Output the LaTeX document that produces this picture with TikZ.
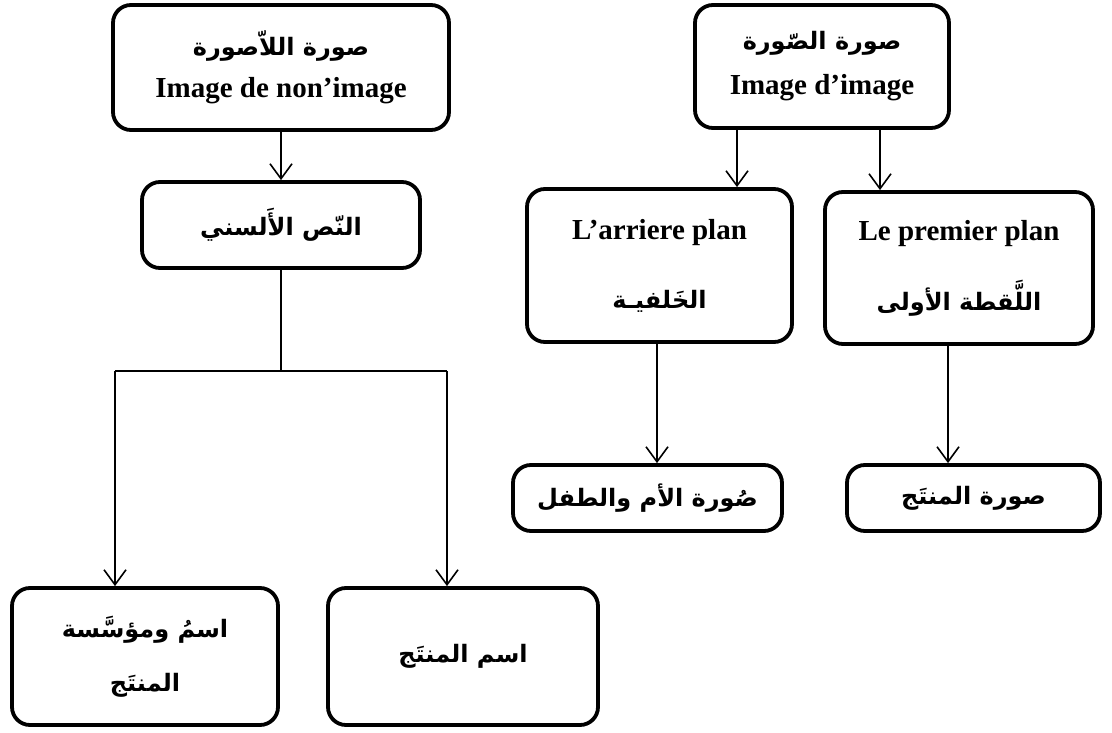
\documentclass[tikz,border=0pt]{standalone}
\usepackage{fontspec}
\setmainfont{Liberation Serif}
\newfontfamily\arfont[Script=Arabic]{DejaVu Sans}
\TeXXeTstate=1
\usetikzlibrary{arrows.meta}
\newcommand\AR[1]{{\arfont\bfseries\fontsize{24}{29}\selectfont\beginR #1\endR}}
\begin{document}
\begin{tikzpicture}[x=1pt,y=-1pt,
  box/.style={draw, line width=3.8pt, rounded corners=18pt, align=center, inner sep=0pt,
    font=\bfseries\fontsize{29}{34}\selectfont},
  conn/.style={line width=1.6pt},
  arr/.style={conn, -{Straight Barb[length=15pt,width=22pt]}}]
\useasboundingbox (0,0) rectangle (1112,733);
% left tree
\node[box, minimum width=336pt, minimum height=125pt] (A) at (281,67.5)
  {\AR{صورة اللاّصورة}\\[8pt] Image de non’image};
\node[box, minimum width=278pt, minimum height=86pt] (B) at (281,225)
  {\AR{النّص الأَلسني}};
\node[box, minimum width=266pt, minimum height=137pt] (C) at (145,656.5)
  {\AR{اسمُ ومؤسَّسة}\\[20pt]\AR{المنتَج}};
\node[box, minimum width=270pt, minimum height=137pt] (D) at (463,656.5)
  {\AR{اسم المنتَج}};
% right tree
\node[box, minimum width=254pt, minimum height=123pt] (E) at (822,66.5)
  {\AR{صورة الصّورة}\\[11pt] Image d’image};
\node[box, minimum width=265pt, minimum height=153pt] (F) at (659.5,265.5)
  {L’arriere plan\\[35pt]\AR{الخَلفيـة}};
\node[box, minimum width=268pt, minimum height=152pt] (G) at (959,268)
  {Le premier plan\\[33pt]\AR{اللَّقطة الأولى}};
\node[box, minimum width=269pt, minimum height=66pt] (H) at (647.5,498)
  {\AR{صُورة الأم والطفل}};
\node[box, minimum width=253pt, minimum height=66pt] (I) at (973.5,498)
  {\AR{صورة المنتَج}};
% connectors
\coordinate (j) at (281,371);
\coordinate (jl) at (115,371);
\coordinate (jr) at (447,371);
\draw[arr] (A.south) -- (B.north);
\draw[conn] (B.south) -- (j);
\draw[conn] (jl) -- (jr);
\draw[arr] (jl) -- (jl |- C.north);
\draw[arr] (jr) -- (jr |- D.north);
\coordinate (e1) at (737,0);
\coordinate (e2) at (880,0);
\coordinate (f1) at (657,0);
\coordinate (g1) at (948,0);
\draw[arr] (e1 |- E.south) -- (e1 |- F.north);
\draw[arr] (e2 |- E.south) -- (e2 |- G.north);
\draw[arr] (f1 |- F.south) -- (f1 |- H.north);
\draw[arr] (g1 |- G.south) -- (g1 |- I.north);
\end{tikzpicture}
\end{document}
